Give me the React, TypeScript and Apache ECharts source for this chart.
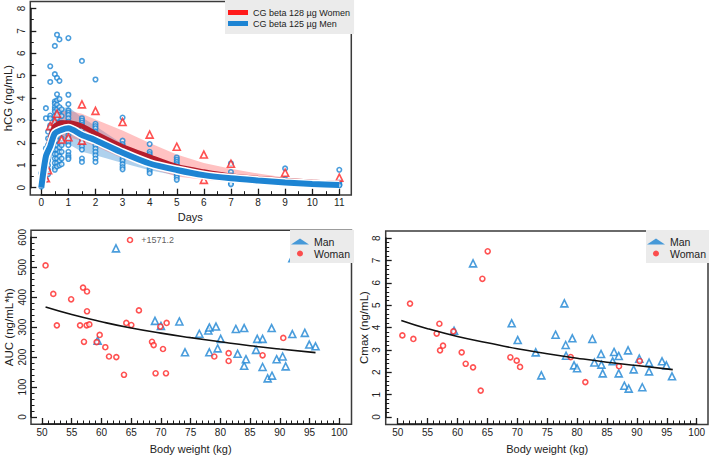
import React, { useEffect, useRef } from "react";
import * as echarts from "echarts";

const FONT = "'Liberation Sans', Arial, sans-serif";
const BLUE = "#1d84d3";
const RED = "#ff2626";
const DARKRED = "#b51d2c";
const INK = "#1a1a1a";

// ---------- Top panel: hCG vs Days ----------
const dayRange = [0, 11];
const hcgRange = [0, 8];
const curveDays = [0, 0.17, 0.33, 0.5, 0.75, 1, 1.5, 2, 3, 4, 5, 6, 7, 8, 9, 10, 11];
const womenMedian = [0, 1.2, 2.2, 2.75, 2.9, 2.9, 2.75, 2.42, 1.83, 1.38, 0.95, 0.71, 0.52, 0.42, 0.33, 0.25, 0.19];
const womenUpper = [0, 1.8, 2.9, 3.25, 3.4, 3.45, 3.3, 3.05, 2.55, 2.0, 1.48, 1.1, 0.85, 0.63, 0.46, 0.36, 0.3];
const womenLower = [0, 0.6, 1.4, 1.9, 2.2, 2.25, 2.1, 1.85, 1.32, 0.88, 0.5, 0.36, 0.24, 0.16, 0.1, 0.05, 0.02];
const menMedian = [0, 1.4, 1.85, 2.42, 2.58, 2.65, 2.35, 2.12, 1.56, 1.08, 0.79, 0.56, 0.42, 0.32, 0.23, 0.17, 0.12];
const menUpper = [0, 2.0, 2.7, 3.3, 3.55, 3.6, 3.15, 2.75, 1.95, 1.35, 0.95, 0.68, 0.5, 0.38, 0.28, 0.21, 0.16];
const menLower = [0, 0.7, 1.2, 1.6, 1.85, 1.95, 1.6, 1.45, 1.1, 0.78, 0.55, 0.4, 0.28, 0.2, 0.14, 0.1, 0.07];

const menObs: [number, number[]][] = [
  [0, [0.64, 0.05]],
  [0.17, [3.55, 3.1, 1.75, 1.45, 0.55, 0.35]],
  [0.25, [2.5, 2.2, 1.9, 1.5, 1.2, 1.0, 0.8, 0.6]],
  [0.33, [5.42, 4.72, 3.22, 3.1, 2.78, 2.7]],
  [0.5, [6.33, 5.07, 3.85, 3.75, 3.6, 3.5, 3.4, 3.2, 3.0, 2.8, 2.6, 2.3, 2.0, 1.7, 1.5, 1.3, 1.1, 0.9, 0.8]],
  [0.58, [6.83, 4.9, 4.17, 3.9, 3.7, 3.5, 3.3, 3.1, 2.9, 2.6, 2.35, 2.1, 1.9, 1.7, 1.5, 1.3, 1.1, 0.95]],
  [0.67, [6.62, 4.77, 3.96, 3.6, 3.4, 3.25, 2.9, 2.7, 2.5, 2.3, 2.0, 1.8, 1.6, 1.4, 1.2, 1.0]],
  [0.75, [3.5, 3.2, 2.9, 2.6, 2.2, 1.9, 1.6, 1.3, 1.05]],
  [1, [6.68, 4.15, 3.73, 3.45, 3.35, 3.25, 3.1, 2.95, 2.8, 2.65, 2.5, 2.35, 2.2, 2.05, 1.9, 1.6, 1.45, 1.35, 1.28]],
  [1.5, [5.66, 3.1, 3.0, 2.9, 2.8, 2.7, 2.6, 2.45, 2.3, 2.15, 2.0, 1.85, 1.7, 1.3, 1.15]],
  [2, [4.83, 2.85, 2.75, 2.65, 2.5, 2.35, 2.2, 2.05, 1.9, 1.75, 1.6, 1.45, 1.3, 1.15]],
  [3, [3.13, 2.1, 1.95, 1.85, 1.75, 1.6, 1.45, 1.3, 1.2, 1.05, 0.92, 0.82]],
  [4, [1.95, 1.6, 1.5, 1.4, 1.3, 1.2, 1.1, 0.95, 0.85, 0.75, 0.65]],
  [5, [1.35, 1.25, 1.15, 1.05, 0.95, 0.85, 0.75, 0.65, 0.55, 0.45, 0.35]],
  [7, [1.08, 0.7, 0.55, 0.45, 0.35, 0.28, 0.2, 0.15]],
  [9, [0.86, 0.38, 0.28, 0.22, 0.18]],
  [11, [0.8, 0.25, 0.15, 0.12, 0.1]],
];

const womenObsDays = [0.17, 0.25, 0.33, 0.5, 0.58, 0.75, 1, 1.5, 1.5, 2, 3, 4, 5, 6, 6, 7, 9, 11];
const womenObsValues = [0.42, 0.78, 2.75, 2.95, 3.3, 2.15, 2.25, 3.72, 2.1, 3.43, 2.93, 2.37, 1.83, 1.48, 0.35, 1.07, 0.67, 0.45];

// ---------- Bottom-left: AUC vs body weight ----------
const weightRange = [50, 100];
const aucRange = [0, 600];
const aucMenWeight = [62.44, 59.36, 69.0, 70.0, 73.1, 74.05, 76.46, 77.97, 78.14, 78.14, 79.26, 79.54, 80.05, 82.6, 82.9, 84.0, 84.0, 84.3, 86.0, 86.2, 87.1, 87.1, 87.95, 88.68, 88.62, 89.46, 90.47, 90.98, 92.1, 92.1, 94.2, 94.95, 96.0];
const aucMen = [563, 255, 321, 304, 319, 216, 278, 289, 299, 216, 302, 229, 261, 294, 211, 297, 171, 193, 224, 261, 261, 167, 129, 138, 297, 193, 202, 169, 277, 530, 281, 242, 236];
const aucWomenWeight = [50.6, 51.9, 52.5, 54.9, 56.4, 56.9, 57.06, 57.57, 57.57, 57.51, 57.96, 59.19, 59.7, 60.65, 61.27, 62.5, 63.79, 64.18, 65.02, 66.3, 68.5, 68.78, 69.1, 69.9, 70.35, 70.85, 70.96, 78.98, 81.39, 81.39, 87.1, 90.58];
const aucWomen = [506, 411, 306, 393, 306, 432, 251, 419, 353, 306, 309, 250, 274, 233, 202, 200, 141, 314, 307, 356, 251, 240, 146, 302, 227, 146, 314, 202, 213, 187, 206, 264];
const aucOutlierWeight = 64.8;
const aucOutlierValue = 1571.2;
const aucAxisCap = 591;
const aucTrendWeight = [50.6, 55, 60, 65, 70, 75, 80, 85, 90, 96];
const aucTrend = [367, 342, 318, 297, 280, 265, 251, 238, 227, 215];

// ---------- Bottom-right: Cmax vs body weight ----------
const cmaxRange = [0, 8];
const cmaxMenWeight = [62.6, 59.42, 69.06, 70.07, 73.08, 74.02, 76.4, 77.87, 78.09, 78.15, 79.2, 79.49, 79.99, 82.55, 82.89, 84.0, 84.06, 84.28, 85.95, 86.18, 86.96, 86.96, 87.9, 88.63, 88.52, 89.46, 90.4, 90.9, 92.03, 92.03, 94.2, 94.93, 95.87];
const cmaxMen = [6.87, 3.86, 4.19, 3.44, 2.89, 1.86, 3.68, 5.08, 3.22, 2.74, 3.52, 2.31, 2.18, 3.49, 2.44, 2.82, 2.34, 1.95, 2.49, 2.91, 2.73, 1.95, 1.4, 1.27, 2.98, 2.13, 2.61, 1.33, 2.43, 2.04, 2.49, 2.31, 1.82];
const cmaxWomenWeight = [50.78, 52.06, 52.62, 56.52, 56.97, 57.08, 57.58, 59.31, 60.7, 61.37, 62.6, 63.88, 64.16, 65.05, 68.84, 69.9, 70.46, 78.93, 81.38, 87.01, 90.47];
const cmaxWomen = [3.65, 5.07, 3.49, 3.73, 4.17, 2.98, 3.19, 3.83, 2.89, 2.38, 2.22, 1.18, 6.18, 7.41, 2.67, 2.52, 2.24, 2.68, 1.56, 2.27, 2.5];
const cmaxTrendWeight = [50.6, 55, 60, 65, 70, 75, 80, 85, 90, 96];
const cmaxTrend = [4.32, 3.95, 3.6, 3.32, 3.05, 2.83, 2.63, 2.45, 2.3, 2.12];

const zip = (a: number[], b: number[]) => a.map((v, i) => [v, b[i]]);

function axis(o: any) {
  return {
    type: "value",
    gridIndex: o.grid,
    min: o.range[0],
    max: o.range[1],
    interval: o.interval,
    offset: o.offset,
    splitLine: { show: false },
    axisLine: { show: true, onZero: false, lineStyle: { color: INK, width: 1.5 } },
    axisTick: { show: true, inside: true, length: 6, lineStyle: { color: INK, width: 1.3 } },
    minorTick: { show: true, splitNumber: o.minorSplit, length: 3.5, lineStyle: { color: INK, width: 1 } },
    axisLabel: o.vertical
      ? { rotate: 90, color: "#222", fontSize: 10, fontFamily: FONT, margin: 4 }
      : { color: "#222", fontSize: 10, fontFamily: FONT, margin: 3 },
    name: o.name,
    nameLocation: "middle",
    nameGap: o.nameGap,
    nameTextStyle: { color: "#222", fontSize: o.vertical ? 11.5 : 11, fontFamily: FONT },
  };
}

function band(upper: number[], lower: number[], fill: string) {
  return {
    type: "custom",
    xAxisIndex: 0,
    yAxisIndex: 0,
    silent: true,
    data: [[0, 0]],
    renderItem: (_p: any, api: any) => {
      const pts: number[][] = [];
      curveDays.forEach((d, i) => pts.push(api.coord([d, upper[i]])));
      for (let i = curveDays.length - 1; i >= 0; i--) pts.push(api.coord([curveDays[i], lower[i]]));
      return { type: "polygon", shape: { points: pts }, style: { fill } };
    },
  };
}

const openStyle = (c: string) => ({ color: "rgba(255,255,255,0.75)", borderColor: c, borderWidth: 1.6 });

const legendBox = (left: number, top: number) => ({
  orient: "vertical", left, top, backgroundColor: "#ebebeb", padding: [6, 4, 4, 1],
  itemGap: 1, itemWidth: 18, itemHeight: 6, selectedMode: false,
  textStyle: { fontSize: 10.5, color: "#222", fontFamily: FONT, lineHeight: 11 },
  data: [
    { name: "Man", icon: "triangle", itemStyle: { color: BLUE, borderWidth: 0 } },
    { name: "Woman", icon: "circle", itemStyle: { color: RED, borderWidth: 0 } },
  ],
});

const frame = (left: number, top: number, width: number, height: number) => ({
  left, top, width, height, show: true, backgroundColor: "transparent", borderColor: "#3a3a3a", borderWidth: 1.5,
});

export default function App() {
  const ref = useRef<HTMLDivElement>(null);
  useEffect(() => {
    if (!ref.current) return;
    const chart = echarts.init(ref.current, undefined, { renderer: "svg" });
    const menObsData: number[][] = [];
    menObs.forEach(([d, vals]) => vals.forEach((v) => menObsData.push([d, v])));

    const option: any = {
      animation: false,
      grid: [
        { left: 41.3, top: 8.5, width: 298, height: 179.2 },
        { left: 42, top: 237.3, width: 297.3, height: 180 },
        { left: 397.7, top: 238.1, width: 299, height: 179.2 },
        frame(30.3, 1.5, 321, 193.4),
        frame(31, 230.3, 320.5, 194),
        frame(385.7, 231, 322.3, 193.4),
      ],
      xAxis: [
        axis({ grid: 0, range: dayRange, interval: 1, minorSplit: 2, offset: 7, name: "Days", nameGap: 17, vertical: false }),
        axis({ grid: 1, range: weightRange, interval: 5, minorSplit: 5, offset: 7, name: "Body weight (kg)", nameGap: 19, vertical: false }),
        axis({ grid: 2, range: weightRange, interval: 5, minorSplit: 5, offset: 7, name: "Body weight (kg)", nameGap: 19, vertical: false }),
      ],
      yAxis: [
        axis({ grid: 0, range: hcgRange, interval: 1, minorSplit: 2, offset: 11, name: "hCG (ng/mL)", nameGap: 16, vertical: true }),
        axis({ grid: 1, range: aucRange, interval: 100, minorSplit: 5, offset: 11, name: "AUC (ng/mL*h)", nameGap: 16, vertical: true }),
        axis({ grid: 2, range: cmaxRange, interval: 1, minorSplit: 5, offset: 12, name: "Cmax (ng/mL)", nameGap: 16, vertical: true }),
      ],
      legend: [
        {
          orient: "vertical", left: 225, top: 0, backgroundColor: "#ebebeb", padding: [7, 4, 5, 3],
          itemGap: 0, itemWidth: 20, itemHeight: 5, selectedMode: false,
          textStyle: { fontSize: 9, color: "#222", fontFamily: FONT, lineHeight: 11 },
          data: [
            { name: "CG beta 128 µg Women", icon: "rect", itemStyle: { color: "#ff1a1a" } },
            { name: "CG beta 125 µg Men", icon: "rect", itemStyle: { color: BLUE } },
          ],
        },
        legendBox(290, 230),
        legendBox(646, 230),
      ],
      series: [
        band(menUpper, menLower, "rgba(110,172,222,0.55)"),
        band(womenUpper, womenLower, "rgba(255,110,110,0.42)"),
        {
          type: "scatter", name: "menObs", xAxisIndex: 0, yAxisIndex: 0, symbol: "circle", symbolSize: 4.5,
          itemStyle: openStyle(BLUE), data: menObsData,
        },
        {
          type: "scatter", name: "womenObs", xAxisIndex: 0, yAxisIndex: 0, symbol: "triangle", symbolSize: 7,
          itemStyle: openStyle(RED), data: zip(womenObsDays, womenObsValues),
        },
        {
          type: "line", name: "CG beta 128 µg Women", xAxisIndex: 0, yAxisIndex: 0, showSymbol: false, clip: false,
          smooth: 0.25, lineStyle: { color: DARKRED, width: 5 }, itemStyle: { color: DARKRED },
          data: zip(curveDays, womenMedian),
        },
        {
          type: "line", name: "menOutline", xAxisIndex: 0, yAxisIndex: 0, showSymbol: false, clip: false, silent: true,
          smooth: 0.25, lineStyle: { color: "#ffffff", width: 9 }, itemStyle: { color: "#fff" },
          data: zip(curveDays, menMedian),
        },
        {
          type: "line", name: "CG beta 125 µg Men", xAxisIndex: 0, yAxisIndex: 0, showSymbol: false, clip: false,
          smooth: 0.25, lineStyle: { color: BLUE, width: 6 }, itemStyle: { color: BLUE },
          data: zip(curveDays, menMedian),
        },
        {
          type: "line", name: "aucTrend", xAxisIndex: 1, yAxisIndex: 1, showSymbol: false, smooth: true,
          lineStyle: { color: "#111", width: 1.6 }, data: zip(aucTrendWeight, aucTrend),
        },
        {
          type: "scatter", name: "Man", xAxisIndex: 1, yAxisIndex: 1, symbol: "triangle", symbolSize: 7,
          itemStyle: openStyle(BLUE), data: zip(aucMenWeight, aucMen),
        },
        {
          type: "scatter", name: "Woman", xAxisIndex: 1, yAxisIndex: 1, symbol: "circle", symbolSize: 5,
          itemStyle: openStyle(RED), data: zip(aucWomenWeight, aucWomen),
        },
        {
          type: "scatter", name: "WomanOutlier", xAxisIndex: 1, yAxisIndex: 1, symbol: "circle", symbolSize: 5,
          itemStyle: openStyle(RED),
          label: { show: true, position: "right", distance: 8, formatter: "+" + aucOutlierValue.toFixed(1), fontSize: 9, color: "#333", fontFamily: FONT },
          data: [[aucOutlierWeight, Math.min(aucOutlierValue, aucAxisCap)]],
        },
        {
          type: "line", name: "cmaxTrend", xAxisIndex: 2, yAxisIndex: 2, showSymbol: false, smooth: true,
          lineStyle: { color: "#111", width: 1.6 }, data: zip(cmaxTrendWeight, cmaxTrend),
        },
        {
          type: "scatter", name: "Man", xAxisIndex: 2, yAxisIndex: 2, symbol: "triangle", symbolSize: 7,
          itemStyle: openStyle(BLUE), data: zip(cmaxMenWeight, cmaxMen),
        },
        {
          type: "scatter", name: "Woman", xAxisIndex: 2, yAxisIndex: 2, symbol: "circle", symbolSize: 5,
          itemStyle: openStyle(RED), data: zip(cmaxWomenWeight, cmaxWomen),
        },
      ],
    };
    chart.setOption(option);
    return () => chart.dispose();
  }, []);
  return (
    <div
      ref={ref}
      style={{ position: "absolute", left: 0, top: 0, width: 709, height: 455, background: "#fff" }}
    />
  );
}
